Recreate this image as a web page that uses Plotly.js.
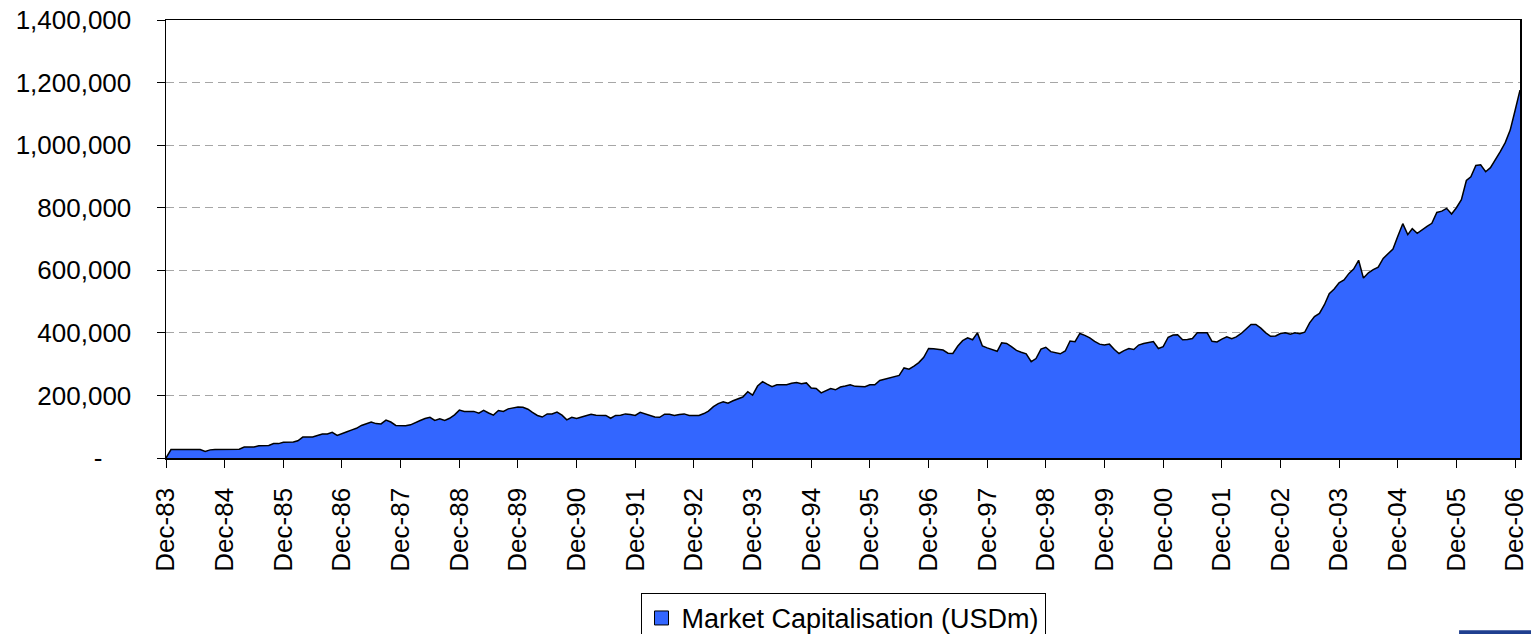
<!DOCTYPE html>
<html>
<head>
<meta charset="utf-8">
<script src="https://cdn.plot.ly/plotly-3.0.1.min.js"></script>
<style>
  html, body { margin: 0; padding: 0; background: #ffffff; }
  #chart { width: 1531px; height: 634px; }
</style>
</head>
<body>
<div id="chart"></div>
<script>
// Monthly market capitalisation (USDm), Dec-1983 .. Jan-2007
const seriesName = "Market Capitalisation (USDm)";
const firstYear = 1983;
const firstMonth = 12;

const marketCap = [
  0, 27000, 27000, 27000, 27000, 27000, 27000, 27000, 21000, 26000, 27000, 27000,
  27000, 27000, 27000, 28000, 35000, 35000, 35000, 39000, 40000, 40000, 46000, 46000,
  50000, 51000, 51000, 55000, 67000, 67000, 67000, 72000, 77000, 77000, 82000, 72000,
  79000, 84000, 90000, 95000, 104000, 110000, 115000, 110000, 109000, 121000, 115000, 104000,
  103000, 103000, 106000, 114000, 120000, 126000, 130000, 120000, 125000, 120000, 127000, 138000,
  153000, 149000, 149000, 149000, 143000, 152000, 144000, 137000, 152000, 149000, 157000, 160000,
  163000, 162000, 156000, 146000, 136000, 131000, 141000, 141000, 147000, 137000, 122000, 130000,
  126000, 131000, 136000, 140000, 137000, 136000, 136000, 127000, 136000, 137000, 141000, 139000,
  136000, 146000, 141000, 135000, 131000, 130000, 140000, 140000, 136000, 139000, 141000, 136000,
  136000, 136000, 142000, 150000, 164000, 174000, 180000, 175000, 183000, 188000, 195000, 212000,
  201000, 230000, 244000, 236000, 228000, 234000, 234000, 234000, 239000, 241000, 237000, 240000,
  224000, 222000, 208000, 214000, 222000, 218000, 227000, 230000, 234000, 229000, 228000, 228000,
  234000, 234000, 248000, 252000, 255000, 258000, 264000, 288000, 284000, 294000, 305000, 322000,
  350000, 349000, 346000, 345000, 335000, 334000, 358000, 375000, 384000, 378000, 400000, 358000,
  352000, 347000, 341000, 368000, 366000, 356000, 344000, 338000, 333000, 308000, 318000, 348000,
  354000, 340000, 337000, 333000, 342000, 374000, 372000, 398000, 392000, 384000, 373000, 364000,
  361000, 364000, 347000, 334000, 343000, 350000, 347000, 361000, 366000, 370000, 372000, 350000,
  356000, 386000, 393000, 394000, 378000, 379000, 382000, 400000, 400000, 400000, 373000, 371000,
  380000, 387000, 381000, 387000, 398000, 413000, 427000, 427000, 415000, 400000, 389000, 390000,
  398000, 400000, 396000, 400000, 397000, 402000, 432000, 452000, 462000, 490000, 525000, 540000,
  560000, 569000, 590000, 604000, 632000, 575000, 592000, 602000, 610000, 638000, 652000, 668000,
  709000, 749000, 714000, 733000, 718000, 730000, 740000, 750000, 785000, 789000, 798000, 780000,
  800000, 826000, 887000, 899000, 935000, 937000, 915000, 928000, 952000, 980000, 1008000, 1048000,
  1110000, 1176000
];

const xTickYears = [1983,1984,1985,1986,1987,1988,1989,1990,1991,1992,1993,1994,
                    1995,1996,1997,1998,1999,2000,2001,2002,2003,2004,2005,2006];
const xTickLabels = ["Dec-83","Dec-84","Dec-85","Dec-86","Dec-87","Dec-88","Dec-89","Dec-90",
                     "Dec-91","Dec-92","Dec-93","Dec-94","Dec-95","Dec-96","Dec-97","Dec-98",
                     "Dec-99","Dec-00","Dec-01","Dec-02","Dec-03","Dec-04","Dec-05","Dec-06"];
const yTickValues = [0, 200000, 400000, 600000, 800000, 1000000, 1200000, 1400000];
const yTickLabels = ["-\u00a0\u00a0\u00a0\u00a0", "200,000", "400,000", "600,000", "800,000",
                     "1,000,000", "1,200,000", "1,400,000"];

function pad(n) { return (n < 10 ? "0" : "") + n; }
const months = marketCap.map(function (_, i) {
  const m0 = firstMonth - 1 + i;
  const y = firstYear + Math.floor(m0 / 12);
  const m = (m0 % 12) + 1;
  return y + "-" + pad(m) + "-01";
});
const xTickVals = xTickYears.map(function (y) { return y + "-12-01"; });

const fontFamily = "Liberation Sans, Arial, sans-serif";

const traces = [
  {
    type: "scatter",
    mode: "lines",
    x: months,
    y: marketCap,
    fill: "tozeroy",
    fillcolor: "#3366FF",
    line: { color: "#000000", width: 1.5 },
    showlegend: false,
    hoverinfo: "x+y"
  },
  {
    type: "scatter",
    mode: "markers",
    name: seriesName,
    x: [null],
    y: [null],
    marker: { symbol: "square", size: 14, color: "#3366FF", line: { color: "#000000", width: 1 } },
    showlegend: true
  }
];

const layout = {
  width: 1531,
  height: 634,
  margin: { l: 166, r: 11, t: 20, b: 176, autoexpand: false },
  paper_bgcolor: "#ffffff",
  plot_bgcolor: "#ffffff",
  font: { family: fontFamily, size: 26, color: "#000000" },
  showlegend: true,
  legend: {
    x: 0.5, xanchor: "center",
    y: -0.308, yanchor: "top",
    orientation: "h",
    bordercolor: "#000000",
    borderwidth: 1,
    bgcolor: "#ffffff",
    itemwidth: 30,
    font: { family: fontFamily, size: 27, color: "#000000" }
  },
  xaxis: {
    type: "date",
    range: ["1983-12-01", "2007-01-01"],
    tickmode: "array",
    tickvals: xTickVals,
    ticktext: xTickLabels,
    tickangle: -90,
    ticks: "outside",
    ticklen: 8,
    tickwidth: 1,
    tickcolor: "#000000",
    ticklabelstandoff: 10,
    ticklabeloverflow: "allow",
    tickfont: { family: fontFamily, size: 26, color: "#000000" },
    showline: true,
    mirror: true,
    linecolor: "#000000",
    linewidth: 1.5,
    showgrid: false,
    zeroline: false
  },
  yaxis: {
    range: [0, 1400000],
    tickmode: "array",
    tickvals: yTickValues,
    ticktext: yTickLabels,
    ticks: "outside",
    ticklen: 8,
    tickwidth: 1,
    tickcolor: "#000000",
    ticklabelstandoff: 20,
    tickfont: { family: fontFamily, size: 26, color: "#000000" },
    showline: true,
    mirror: true,
    linecolor: "#000000",
    linewidth: 1.5,
    showgrid: true,
    gridcolor: "#A6A6A6",
    gridwidth: 1,
    griddash: "8px,5px",
    zeroline: false
  },
  shapes: [
    {
      type: "rect", xref: "paper", yref: "paper",
      x0: 0.955, x1: 1.009, y0: -0.403, y1: -0.393,
      fillcolor: "#1F3F8F", line: { width: 0 }
    }
  ]
};

Plotly.newPlot("chart", traces, layout, { displayModeBar: false, staticPlot: true });
</script>
</body>
</html>
